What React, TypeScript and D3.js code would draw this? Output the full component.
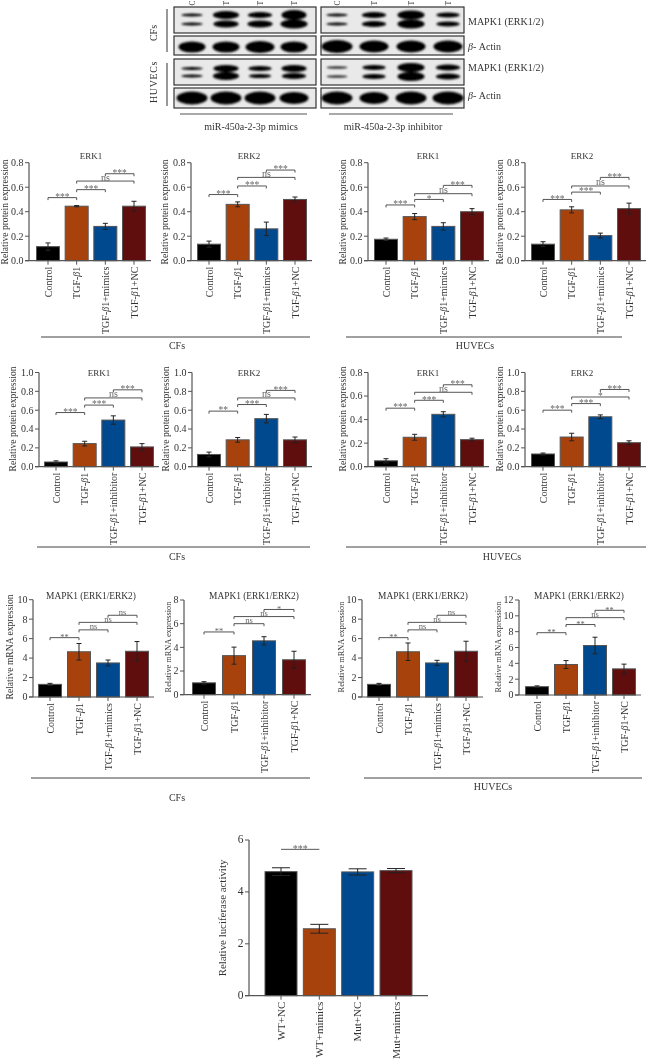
import React from "react";
import * as d3 from "d3";

// ---------- data ----------
const catsMimics = ["Control", "TGF-β1", "TGF-β1+mimics", "TGF-β1+NC"];
const catsInhibitor = ["Control", "TGF-β1", "TGF-β1+inhibitor", "TGF-β1+NC"];
const catsLuciferase = ["WT+NC", "WT+mimics", "Mut+NC", "Mut+mimics"];
const laneHeads = ["C", "T", "T", "T"];

const a1Val = [0.115, 0.445, 0.28, 0.445];
const a1Err = [0.03, 0.005, 0.025, 0.04];
const a1Sig = [0.515, 0.58, 0.65, 0.71];
const a2Val = [0.135, 0.46, 0.26, 0.5];
const a2Err = [0.025, 0.02, 0.055, 0.02];
const a2Sig = [0.54, 0.61, 0.68, 0.74];
const a3Val = [0.175, 0.36, 0.28, 0.4];
const a3Err = [0.01, 0.025, 0.03, 0.025];
const a3Sig = [0.455, 0.5, 0.547, 0.615];
const a4Val = [0.135, 0.415, 0.205, 0.425];
const a4Err = [0.02, 0.025, 0.02, 0.045];
const a4Sig = [0.5, 0.56, 0.61, 0.68];

const b1Val = [0.05, 0.245, 0.495, 0.21];
const b1Err = [0.012, 0.025, 0.045, 0.035];
const b1Sig = [0.575, 0.654, 0.73, 0.816];
const b2Val = [0.13, 0.285, 0.51, 0.285];
const b2Err = [0.025, 0.025, 0.045, 0.03];
const b2Sig = [0.59, 0.66, 0.73, 0.81];
const b3Val = [0.05, 0.25, 0.445, 0.23];
const b3Err = [0.018, 0.025, 0.022, 0.012];
const b3Sig = [0.497, 0.564, 0.632, 0.696];
const b4Val = [0.135, 0.315, 0.53, 0.255];
const b4Err = [0.01, 0.04, 0.02, 0.02];
const b4Sig = [0.6, 0.67, 0.74, 0.82];

const c1Val = [1.3, 4.65, 3.5, 4.7];
const c1Err = [0.1, 0.85, 0.3, 1.0];
const c1Sig = [6.1, 6.9, 7.67, 8.4];
const c2Val = [1.0, 3.3, 4.55, 2.95];
const c2Err = [0.1, 0.72, 0.35, 0.72];
const c2Sig = [5.3, 6.0, 6.6, 7.2];
const c3Val = [1.3, 4.65, 3.5, 4.7];
const c3Err = [0.1, 0.9, 0.27, 1.03];
const c3Sig = [6.1, 6.9, 7.67, 8.4];
const c4Val = [1.05, 3.85, 6.25, 3.3];
const c4Err = [0.1, 0.5, 1.05, 0.6];
const c4Sig = [7.87, 8.9, 9.77, 10.7];

const dVal = [4.78, 2.58, 4.77, 4.82];
const dErr = [0.15, 0.17, 0.12, 0.08];
const dSig = [5.64];

const tick08 = [0, 0.2, 0.4, 0.6, 0.8];
const tick10 = [0, 0.2, 0.4, 0.6, 0.8, 1.0];
const tickM10 = [0, 2, 4, 6, 8, 10];
const tickM8 = [0, 2, 4, 6, 8];
const tickM12 = [0, 2, 4, 6, 8, 10, 12];
const tickL6 = [0, 2, 4, 6];

const pairs = [[0, 1], [1, 2], [1, 3], [2, 3]];
const colors = ["#000000", "#a8430e", "#004a8f", "#5f0e0e"];

const T_PROT = "Relative protein expression";
const T_MRNA = "Relative mRNA expression";
const T_MAPK = "MAPK1 (ERK1/ERK2)";

// blot band thickness per lane
const blotMimicsTop = [[3, 8, 6, 10], [3, 7, 7, 9]];
const blotInhibTop = [[3, 6, 9, 5], [3, 6, 9, 5]];
const blotMimicsActinTop = [[11, 11, 12, 11]];
const blotInhibActinTop = [[13, 12, 12, 12]];
const blotMimicsBot = [[3, 7, 5, 7], [3, 8, 4, 6]];
const blotInhibBot = [[2, 5, 9, 6], [2, 5, 9, 6]];
const blotMimicsActinBot = [[13, 13, 13, 12]];
const blotInhibActinBot = [[13, 12, 13, 13]];

// ---------- layout ----------
type P = any;
const ROW_A = { y0: 260.7, yTop: 162.7, titleY: 159, yMid: 212 };
const ROW_B = { y0: 466.7, yTop: 372.5, titleY: 375.5, yMid: 419 };
const ROW_C = { titleY: 599, yMid: 647, ts: 9.4, sf: 8.4, nf: 8.5 };
const panels: P[] = [
  { ...ROW_A, cats: catsMimics, val: a1Val, err: a1Err, sig: a1Sig, lab: ["***", "***", "ns", "***"], ticks: tick08, fmt: ".1f", max: 0.8, ax: 29, c0: 48, c3: 134, title: "ERK1", tx: 91, ylab: T_PROT, yx: 8 },
  { ...ROW_A, cats: catsMimics, val: a2Val, err: a2Err, sig: a2Sig, lab: ["***", "***", "ns", "***"], ticks: tick08, fmt: ".1f", max: 0.8, ax: 191, c0: 209, c3: 295, title: "ERK2", tx: 249, ylab: T_PROT, yx: 168 },
  { ...ROW_A, cats: catsMimics, val: a3Val, err: a3Err, sig: a3Sig, lab: ["***", "*", "ns", "***"], ticks: tick08, fmt: ".1f", max: 0.8, ax: 368, c0: 386, c3: 472, title: "ERK1", tx: 428, ylab: T_PROT, yx: 346 },
  { ...ROW_A, cats: catsMimics, val: a4Val, err: a4Err, sig: a4Sig, lab: ["***", "***", "ns", "***"], ticks: tick08, fmt: ".1f", max: 0.8, ax: 525, c0: 543, c3: 629, title: "ERK2", tx: 582, ylab: T_PROT, yx: 503 },
  { ...ROW_B, cats: catsInhibitor, val: b1Val, err: b1Err, sig: b1Sig, lab: ["***", "***", "ns", "***"], ticks: tick10, fmt: ".1f", max: 1, ax: 39, c0: 56, c3: 142, title: "ERK1", tx: 99, ylab: T_PROT, yx: 16 },
  { ...ROW_B, cats: catsInhibitor, val: b2Val, err: b2Err, sig: b2Sig, lab: ["**", "***", "ns", "***"], ticks: tick10, fmt: ".1f", max: 1, ax: 192, c0: 209, c3: 295, title: "ERK2", tx: 249, ylab: T_PROT, yx: 169 },
  { ...ROW_B, cats: catsInhibitor, val: b3Val, err: b3Err, sig: b3Sig, lab: ["***", "***", "ns", "***"], ticks: tick08, fmt: ".1f", max: 0.8, ax: 368, c0: 386, c3: 472, title: "ERK1", tx: 428, ylab: T_PROT, yx: 346 },
  { ...ROW_B, cats: catsInhibitor, val: b4Val, err: b4Err, sig: b4Sig, lab: ["***", "***", "*", "***"], ticks: tick10, fmt: ".1f", max: 1, ax: 525, c0: 543, c3: 629, title: "ERK2", tx: 582, ylab: T_PROT, yx: 503 },
  { ...ROW_C, cats: catsMimics, val: c1Val, err: c1Err, sig: c1Sig, lab: ["**", "ns", "ns", "ns"], ticks: tickM10, fmt: "d", max: 10, ax: 33, c0: 50, c3: 137, y0: 697, yTop: 599.7, title: T_MAPK, tx: 91, ylab: T_MRNA, yx: 13, ys: 9.6 },
  { ...ROW_C, cats: catsInhibitor, val: c2Val, err: c2Err, sig: c2Sig, lab: ["**", "ns", "ns", "*"], ticks: tickM8, fmt: "d", max: 8, ax: 184, c0: 204, c3: 294, y0: 694.7, yTop: 600, title: T_MAPK, tx: 254, ylab: T_MRNA, yx: 171, ys: 8.3 },
  { ...ROW_C, cats: catsMimics, val: c3Val, err: c3Err, sig: c3Sig, lab: ["**", "ns", "ns", "ns"], ticks: tickM10, fmt: "d", max: 10, ax: 362, c0: 379, c3: 466, y0: 697, yTop: 599.7, title: T_MAPK, tx: 423, ylab: T_MRNA, yx: 344, ys: 8.3 },
  { ...ROW_C, cats: catsInhibitor, val: c4Val, err: c4Err, sig: c4Sig, lab: ["**", "**", "ns", "**"], ticks: tickM12, fmt: "d", max: 12, ax: 519, c0: 537, c3: 624, y0: 695, yTop: 600, title: T_MAPK, tx: 579, ylab: T_MRNA, yx: 501, ys: 8.3 },
];
const lucPanel: P = { cats: catsLuciferase, val: dVal, err: dErr, sig: dSig, lab: ["***"], ticks: tickL6, fmt: "d", max: 6, ax: 249, c0: 281, c3: 396, y0: 995.7, yTop: 840, ylab: "Relative luciferase activity", yx: 226, yMid: 918, ys: 10.9, bw: 32, capW: 9, fs: 11, tf: 11.5, end: 428, sf: 10 };

const groupLines = [
  [41, 310, 337, "CFs", 177, 349], [346, 622, 337, "HUVECs", 475, 349],
  [37, 310, 547, "CFs", 177, 560], [346, 646, 547, "HUVECs", 502, 560],
  [31, 310, 778, "CFs", 177, 801], [364, 642, 778, "HUVECs", 493, 790],
] as const;

const FONT = "'Liberation Serif', serif";
const TXT = "#333";
const AX = "#555";

function Label({ s }: { s: string }) {
  const i = s.indexOf("β");
  if (i < 0) return <>{s}</>;
  return (
    <>
      {s.slice(0, i)}
      <tspan fontStyle="italic">β</tspan>
      {s.slice(i + 1)}
    </>
  );
}

function Panel({ p }: { p: P }) {
  const x = d3.scalePoint<string>().domain(p.cats).range([p.c0, p.c3]);
  const y = d3.scaleLinear().domain([0, p.max]).range([p.y0, p.yTop]);
  const fmt = d3.format(p.fmt);
  const bw = p.bw ?? 23;
  const capW = p.capW ?? 2.5;
  const fs = p.fs ?? 10;
  const end = p.end ?? p.c3 + 17;
  return (
    <g fontFamily={FONT}>
      {p.cats.map((c: string, i: number) => {
        const cx = x(c)!;
        return (
          <g key={c}>
            <rect x={cx - bw / 2} y={y(p.val[i])} width={bw} height={p.y0 - y(p.val[i])} fill={colors[i]} stroke={AX} strokeWidth={1} />
            <path d={`M${cx},${y(p.val[i] - p.err[i])}V${y(p.val[i] + p.err[i])}M${cx - capW},${y(p.val[i] - p.err[i])}h${2 * capW}M${cx - capW},${y(p.val[i] + p.err[i])}h${2 * capW}`} stroke="#222" strokeWidth={1} fill="none" />
            <line x1={cx} x2={cx} y1={p.y0} y2={p.y0 + 4} stroke={AX} />
            <text transform={`translate(${cx + 3.5},${p.y0 + 6}) rotate(-90)`} textAnchor="end" fontSize={fs} fill={TXT}>
              <Label s={c} />
            </text>
          </g>
        );
      })}
      <path d={`M${p.ax},${p.yTop}V${p.y0}`} stroke={AX} strokeWidth={1.2} fill="none" />
      <path d={`M${p.ax - 4},${p.y0}H${end}`} stroke={AX} strokeWidth={1.2} fill="none" />
      {p.ticks.map((t: number) => (
        <g key={t}>
          <line x1={p.ax - 4} x2={p.ax} y1={y(t)} y2={y(t)} stroke={AX} strokeWidth={1} />
          <text x={p.ax - 5.5} y={y(t) + 3.4} textAnchor="end" fontSize={p.tf ?? 10} fill={TXT}>{fmt(t)}</text>
        </g>
      ))}
      <text transform={`translate(${p.yx},${p.yMid}) rotate(-90)`} textAnchor="middle" fontSize={p.ys ?? 9.6} fill={TXT}>{p.ylab}</text>
      {p.title && <text x={p.tx} y={p.titleY} textAnchor="middle" fontSize={p.ts ?? 9} fill={TXT}>{p.title}</text>}
      {p.sig.map((v: number, i: number) => {
        const [a, b] = pairs[i];
        const xa = x(p.cats[a])!;
        const xb = x(p.cats[b])!;
        const yy = y(v);
        const lab = p.lab[i];
        const isNs = lab === "ns";
        const tick = p.bw ? 0 : 2.5;
        return (
          <g key={i}>
            <path d={`M${xa},${yy + tick}V${yy}H${xb}V${yy + tick}`} stroke={AX} strokeWidth={1} fill="none" />
            <text x={(xa + xb) / 2} y={isNs ? yy - 0.5 : yy + 2.3} textAnchor="middle" fontSize={isNs ? (p.nf ?? 10) : (p.sf ?? 9.5)} fill="#666">{lab}</text>
          </g>
        );
      })}
    </g>
  );
}

function Blot({ x0, x1, y0, y1, lanes, rows, bandY }: { x0: number; x1: number; y0: number; y1: number; lanes: [number, number]; rows: number[][]; bandY: number[] }) {
  const lx = d3.scalePoint<number>().domain([0, 1, 2, 3]).range(lanes);
  return (
    <g>
      <rect x={x0} y={y0} width={x1 - x0} height={y1 - y0} fill="#e9e9e9" stroke="#333" strokeWidth={1.2} />
      <g filter="url(#bandBlur)">
        {rows.map((r, ri) =>
          r.map((t, li) => (
            <ellipse key={`${ri}-${li}`} cx={lx(li)!} cy={bandY[ri]} rx={t >= 10 ? t + 2.5 : 9.5 + t * 0.45} ry={t / 2} fill="#000" />
          ))
        )}
      </g>
    </g>
  );
}

export default function App() {
  const laneL: [number, number] = [192, 294];
  const laneR: [number, number] = [337, 448];
  const lxL = d3.scalePoint<number>().domain([0, 1, 2, 3]).range(laneL);
  const lxR = d3.scalePoint<number>().domain([0, 1, 2, 3]).range(laneR);
  return (
    <svg width={646} height={1061} style={{ position: "absolute", left: 0, top: 0, display: "block", background: "#fff" }} fontFamily={FONT}>
      <defs>
        <filter id="bandBlur" x="-5%" y="-20%" width="110%" height="140%"><feGaussianBlur stdDeviation="1.1" /></filter>
        <filter id="soft" x="0" y="0" width="100%" height="100%"><feGaussianBlur stdDeviation="0.35" /></filter>
      </defs>
      <g filter="url(#soft)">
        {/* blots */}
        <Blot x0={174} x1={316} y0={7} y1={33} lanes={laneL} rows={blotMimicsTop} bandY={[15, 24]} />
        <Blot x0={321} x1={464} y0={7} y1={33} lanes={laneR} rows={blotInhibTop} bandY={[15, 24]} />
        <Blot x0={174} x1={316} y0={36} y1={55} lanes={laneL} rows={blotMimicsActinTop} bandY={[47]} />
        <Blot x0={321} x1={464} y0={36} y1={55} lanes={laneR} rows={blotInhibActinTop} bandY={[46.5]} />
        <Blot x0={174} x1={316} y0={59} y1={85} lanes={laneL} rows={blotMimicsBot} bandY={[68.5, 76]} />
        <Blot x0={321} x1={464} y0={59} y1={85} lanes={laneR} rows={blotInhibBot} bandY={[67.5, 76.5]} />
        <Blot x0={174} x1={316} y0={88} y1={108} lanes={laneL} rows={blotMimicsActinBot} bandY={[98]} />
        <Blot x0={321} x1={464} y0={88} y1={108} lanes={laneR} rows={blotInhibActinBot} bandY={[98]} />
        {laneHeads.map((t, i) => (
          <g key={i}>
            <text transform={`translate(${lxL(i)! + 2.5},5.6) rotate(-90)`} fontSize={7.5} fill={TXT}>{t}</text>
            <text transform={`translate(${lxR(i)! + 2.5},5.6) rotate(-90)`} fontSize={7.5} fill={TXT}>{t}</text>
          </g>
        ))}
        <path d="M167,9V52M167,63V106" stroke="#555" strokeWidth={1.2} fill="none" />
        <text transform="translate(157,33) rotate(-90)" textAnchor="middle" fontSize={10} fill={TXT}>CFs</text>
        <text transform="translate(157,82) rotate(-90)" textAnchor="middle" fontSize={10} letterSpacing={0.6} fill={TXT}>HUVECs</text>
        {[25, 49.5, 71, 99].map((yy, i) => (
          <text key={i} x={468} y={yy} fontSize={10} fill={TXT}>
            {i % 2 === 0 ? "MAPK1 (ERK1/2)" : <><tspan fontStyle="italic">β</tspan>- Actin</>}
          </text>
        ))}
        <path d="M180,114H307M329,114H453" stroke="#555" strokeWidth={1} fill="none" />
        <text x={251} y={130} textAnchor="middle" fontSize={10} fill={TXT}>miR-450a-2-3p mimics</text>
        <text x={393} y={130} textAnchor="middle" fontSize={10} fill={TXT}>miR-450a-2-3p inhibitor</text>

        {panels.map((p, i) => <Panel key={i} p={p} />)}
        <Panel p={lucPanel} />
        {groupLines.map(([a, b, yy, lab, lx, ly], i) => (
          <g key={i}>
            <line x1={a} x2={b} y1={yy} y2={yy} stroke="#444" strokeWidth={1} />
            <text x={lx} y={ly} textAnchor="middle" fontSize={10} fill={TXT}>{lab}</text>
          </g>
        ))}
      </g>
    </svg>
  );
}
